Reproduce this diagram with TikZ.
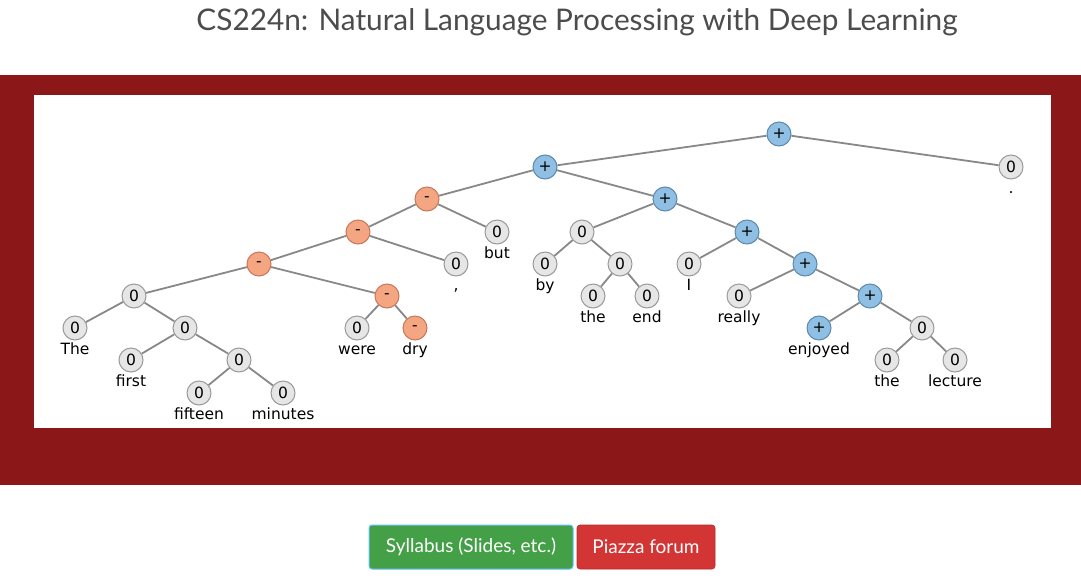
\documentclass[tikz,border=0pt]{standalone}
\usepackage{fontspec}
\setmainfont{DejaVu Sans}
\newfontfamily\titlefont{Lato}
\usetikzlibrary{positioning}
\definecolor{cardinal}{HTML}{8C1718}
\definecolor{zerofill}{HTML}{E6E6E6}
\definecolor{zeroline}{HTML}{9A9A9A}
\definecolor{posfill}{HTML}{8FC0E3}
\definecolor{posline}{HTML}{5A88AE}
\definecolor{negfill}{HTML}{F4A582}
\definecolor{negline}{HTML}{C8785A}
\definecolor{edgegray}{HTML}{888888}
\definecolor{btngreen}{HTML}{43A047}
\definecolor{btnred}{HTML}{D33434}
\tikzset{
  tnode/.style={circle,draw,line width=1pt,minimum size=24pt,inner sep=0pt,font=\fontsize{15.5}{15.5}\selectfont},
  zeronode/.style={tnode,fill=zerofill,draw=zeroline},
  posnode/.style={tnode,fill=posfill,draw=posline},
  negnode/.style={tnode,fill=negfill,draw=negline},
  word/.style={label={[font=\fontsize{15.5}{15.5}\selectfont,inner sep=0pt,text height=11pt,text depth=3pt,label distance=3pt]below:#1}},
  tedge/.style={draw=edgegray,line width=1.8pt},
  button/.style={rounded corners=3pt,text=white,minimum height=44pt,font=\titlefont\fontsize{19}{19}\selectfont}
}
\begin{document}
\begin{tikzpicture}[x=1pt,y=-1pt]
\useasboundingbox (0,0) rectangle (1081,587);
\fill[white] (0,0) rectangle (1081,587);
\node[text=black!70,font=\titlefont\fontsize{29.8}{30}\selectfont] (title) at (577,22) {CS224n: Natural Language Processing with Deep Learning};
\fill[cardinal] (0,75) rectangle (1081,485);
\fill[white] (34,95) rectangle (1051,428);
\node[posnode] (root) at (779,134) {+};
\node[zeronode,word=.] (period) at (1011,167) {0};
\node[posnode] (left) at (545,167) {+};
\node[negnode] (nbut) at (427,199) {-};
\node[zeronode,word=but] (but) at (497,232) {0};
\node[negnode] (ncomma) at (358,232) {-};
\node[zeronode,word={,}] (comma) at (456,264) {0};
\node[negnode] (nwere) at (259,264) {-};
\node[zeronode] (subj) at (134,296) {0};
\node[zeronode,word=The] (the1) at (75,328) {0};
\node[zeronode] (firstfm) at (185,328) {0};
\node[zeronode,word=first] (first) at (131,360) {0};
\node[zeronode] (fm) at (239,360) {0};
\node[zeronode,word=fifteen] (fifteen) at (199,393) {0};
\node[zeronode,word=minutes] (minutes) at (283,393) {0};
\node[negnode] (weredry) at (387,296) {-};
\node[zeronode,word=were] (were) at (357,328) {0};
\node[negnode,word=dry] (dry) at (415,328) {-};
\node[posnode] (right) at (665,199) {+};
\node[zeronode] (bytheend) at (582,232) {0};
\node[zeronode,word=by] (by) at (545,264) {0};
\node[zeronode] (theend) at (620,264) {0};
\node[zeronode,word=the] (the2) at (593,296) {0};
\node[zeronode,word=end] (end) at (647,296) {0};
\node[posnode] (ienjoyed) at (747,232) {+};
\node[zeronode,word=I] (i) at (689,264) {0};
\node[posnode] (reallyenjoyed) at (805,264) {+};
\node[zeronode,word=really] (really) at (739,296) {0};
\node[posnode] (enjoyedlecture) at (870,296) {+};
\node[posnode,word=enjoyed] (enjoyed) at (819,328) {+};
\node[zeronode] (thelecture) at (922,328) {0};
\node[zeronode,word=the] (the3) at (887,360) {0};
\node[zeronode,word=lecture] (lecture) at (955,360) {0};
\draw[tedge] (root)--(left);
\draw[tedge] (root)--(period);
\draw[tedge] (left)--(nbut);
\draw[tedge] (left)--(right);
\draw[tedge] (nbut)--(ncomma);
\draw[tedge] (nbut)--(but);
\draw[tedge] (ncomma)--(nwere);
\draw[tedge] (ncomma)--(comma);
\draw[tedge] (nwere)--(subj);
\draw[tedge] (nwere)--(weredry);
\draw[tedge] (subj)--(the1);
\draw[tedge] (subj)--(firstfm);
\draw[tedge] (firstfm)--(first);
\draw[tedge] (firstfm)--(fm);
\draw[tedge] (fm)--(fifteen);
\draw[tedge] (fm)--(minutes);
\draw[tedge] (weredry)--(were);
\draw[tedge] (weredry)--(dry);
\draw[tedge] (right)--(bytheend);
\draw[tedge] (right)--(ienjoyed);
\draw[tedge] (bytheend)--(by);
\draw[tedge] (bytheend)--(theend);
\draw[tedge] (theend)--(the2);
\draw[tedge] (theend)--(end);
\draw[tedge] (ienjoyed)--(i);
\draw[tedge] (ienjoyed)--(reallyenjoyed);
\draw[tedge] (reallyenjoyed)--(really);
\draw[tedge] (reallyenjoyed)--(enjoyedlecture);
\draw[tedge] (enjoyedlecture)--(enjoyed);
\draw[tedge] (enjoyedlecture)--(thelecture);
\draw[tedge] (thelecture)--(the3);
\draw[tedge] (thelecture)--(lecture);
\node[button,fill=btngreen,draw=blue!40!cyan!60,line width=1pt,minimum width=204pt] (syllabus) at (471,547) {Syllabus (Slides, etc.)};
\node[button,fill=btnred,draw=btnred!85!black,line width=0.6pt,minimum width=138pt] (piazza) at (646,547) {Piazza forum};
\end{tikzpicture}
\end{document}
